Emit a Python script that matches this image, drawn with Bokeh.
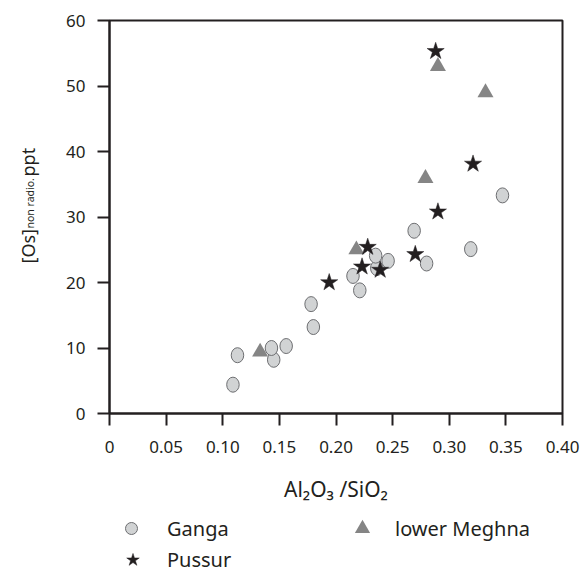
import math
from bokeh.plotting import figure
from bokeh.layouts import column, row
from bokeh.models import (Range1d, FixedTicker, NumeralTickFormatter, Legend, LegendItem, Label)
from bokeh.embed import file_html
from bokeh.resources import INLINE

# ---- data ----
ganga_x = [0.109, 0.113, 0.145, 0.143, 0.156, 0.180, 0.178, 0.221, 0.215, 0.236,
           0.235, 0.246, 0.280, 0.269, 0.319, 0.347]
ganga_y = [4.4, 8.9, 8.2, 10.0, 10.3, 13.2, 16.7, 18.8, 21.0, 22.2,
           24.1, 23.3, 22.9, 27.9, 25.1, 33.3]

pussur_x = [0.194, 0.223, 0.239, 0.228, 0.270, 0.290, 0.321, 0.288]
pussur_y = [20.0, 22.4, 21.9, 25.4, 24.3, 30.8, 38.1, 55.3]

meghna_x = [0.133, 0.218, 0.279, 0.332, 0.290]
meghna_y = [9.4, 25.0, 35.9, 49.0, 53.0]

x_ticks = [0, 0.05, 0.10, 0.15, 0.20, 0.25, 0.30, 0.35, 0.40]
y_ticks = [0, 10, 20, 30, 40, 50, 60]

series_names = ["Ganga", "Pussur", "lower Meghna"]

FONT = "Noto Sans"
INK = "#231f20"
G_FILL = "#d1d3d4"
G_LINE = "#6d6e71"
M_FILL = "#858585"

TOP_H = 514      # height of the row holding the y title and the plot
YLAB_W = 58      # width of the y-title strip
TOTAL_W = 587
TOTAL_H = 573
FRAME_BOTTOM = 413   # page y of the plot frame bottom (the y-title strip shares it)

# ---------------- main plot ----------------
p = figure(width=TOTAL_W - YLAB_W, height=TOP_H, output_backend="svg", toolbar_location=None,
           x_range=Range1d(0, 0.40), y_range=Range1d(0, 60),
           min_border_left=51, min_border_right=25, min_border_top=20, min_border_bottom=101)
p.grid.visible = False
p.background_fill_color = "white"
p.border_fill_color = "white"
p.outline_line_color = INK
p.outline_line_width = 2

for ax in (p.xaxis[0], p.yaxis[0]):
    ax.axis_line_color = INK
    ax.axis_line_width = 2
    ax.major_tick_line_color = INK
    ax.major_tick_line_width = 2
    ax.major_tick_in = 0
    ax.major_tick_out = 12
    ax.minor_tick_line_color = None
    ax.major_label_text_font = FONT
    ax.major_label_text_font_size = "17px"
    ax.major_label_text_color = INK

p.xaxis.ticker = FixedTicker(ticks=x_ticks)
p.xaxis.formatter = NumeralTickFormatter(format="0.00")
p.xaxis.major_label_overrides = {0: "0"}
p.xaxis.major_label_standoff = 15
p.xaxis.axis_label = "Al₂O₃ /SiO₂"
p.xaxis.axis_label_text_font = FONT
p.xaxis.axis_label_text_font_size = "21px"
p.xaxis.axis_label_text_font_style = "normal"
p.xaxis.axis_label_text_color = INK
p.xaxis.axis_label_standoff = 19

p.yaxis.ticker = FixedTicker(ticks=y_ticks)
p.yaxis.major_label_standoff = 12

p.ellipse(x=ganga_x, y=ganga_y, width=12.5, height=15,
          width_units="screen", height_units="screen",
          fill_color=G_FILL, line_color=G_LINE, line_width=1)
p.scatter(x=meghna_x, y=meghna_y, marker="triangle", size=16,
          fill_color=M_FILL, line_color=None)
p.scatter(x=pussur_x, y=pussur_y, marker="star", size=18,
          fill_color=INK, line_color=INK, line_width=0.5)

# ---------------- y-axis title strip (frame aligned with the plot frame) ----------------
ylab = figure(width=YLAB_W, height=TOP_H, output_backend="svg", toolbar_location=None,
              x_axis_type=None, y_axis_type=None, x_range=Range1d(0, 1), y_range=Range1d(0, 1),
              min_border_left=0, min_border_right=0, min_border_top=0, min_border_bottom=0)
ylab.outline_line_color = None
ang = math.pi / 2
ylab.add_layout(Label(x=27, y=FRAME_BOTTOM - 263, x_units="screen", y_units="screen", text="[Os]",
                      angle=ang, text_font=FONT, text_font_size="18px", text_color=INK,
                      text_align="left", text_baseline="alphabetic"))
ylab.add_layout(Label(x=29, y=FRAME_BOTTOM - 228, x_units="screen", y_units="screen", text="non radio.",
                      angle=ang, text_font=FONT, text_font_size="10.5px", text_color=INK,
                      text_align="left", text_baseline="alphabetic"))
ylab.add_layout(Label(x=27, y=FRAME_BOTTOM - 176, x_units="screen", y_units="screen", text="ppt",
                      angle=ang, text_font=FONT, text_font_size="18px", text_color=INK,
                      text_align="left", text_baseline="alphabetic"))

# ---------------- legend strip ----------------
LEG_H = TOTAL_H - TOP_H
leg = figure(width=TOTAL_W, height=LEG_H, output_backend="svg", toolbar_location=None,
             x_axis_type=None, y_axis_type=None, x_range=Range1d(-2, -1), y_range=Range1d(-2, -1),
             min_border_left=0, min_border_right=0, min_border_top=0, min_border_bottom=0)
leg.outline_line_color = None
# legend proxies: one point of each series, lying outside this strip's ranges
lg_g = leg.scatter(x=ganga_x[:1], y=ganga_y[:1], marker="circle",
                   fill_color=G_FILL, line_color=G_LINE, line_width=1)
lg_p = leg.scatter(x=pussur_x[:1], y=pussur_y[:1], marker="star",
                   fill_color=INK, line_color=INK, line_width=0.5)
lg_m = leg.scatter(x=meghna_x[:1], y=meghna_y[:1], marker="triangle",
                   fill_color=M_FILL, line_color=None)


def make_legend(label, rend, glyph, cx, cy, text_x):
    """glyph box centred at page (cx, cy); label text starting at page x text_x"""
    left = int(round(cx - glyph / 2))
    bottom_page = int(round(cy + glyph / 2))
    return Legend(items=[LegendItem(label=label, renderers=[rend])],
                  location=(left, TOTAL_H - bottom_page), orientation="vertical",
                  glyph_width=glyph, glyph_height=glyph, label_height=glyph,
                  label_standoff=int(text_x - (left + glyph)), padding=0, margin=0,
                  label_text_font=FONT, label_text_font_size="20px", label_text_color=INK,
                  border_line_color=None, background_fill_alpha=0)


leg.add_layout(make_legend(series_names[0], lg_g, 30, 131, 528, 167), "center")
leg.add_layout(make_legend(series_names[1], lg_p, 33, 132, 560, 167), "center")
leg.add_layout(make_legend(series_names[2], lg_m, 38, 362, 528, 395), "center")

layout = column(row(ylab, p, spacing=0), leg, spacing=0)

open("out.html", "w").write(file_html(layout, INLINE))
